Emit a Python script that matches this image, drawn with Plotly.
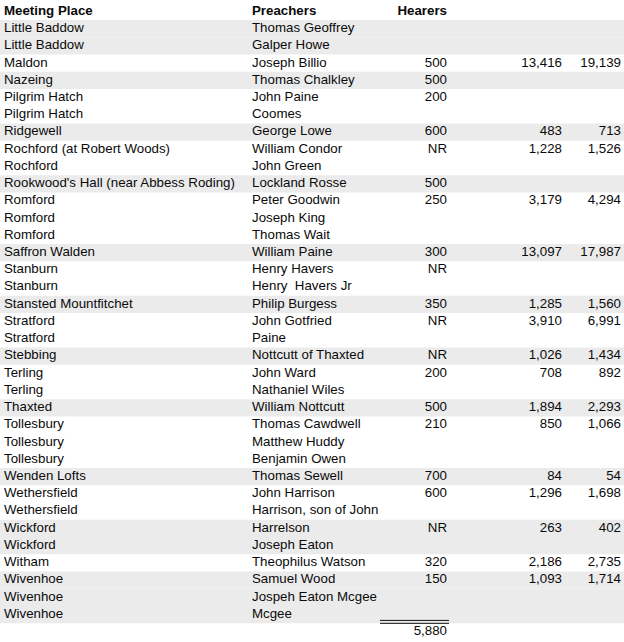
import plotly.graph_objects as go

# header labels
columns = ["Meeting Place", "Preachers", "Hearers", "", ""]

places = [
    "Little Baddow", "Little Baddow", "Maldon", "Nazeing", "Pilgrim Hatch", "Pilgrim Hatch",
    "Ridgewell", "Rochford (at Robert Woods)", "Rochford", "Rookwood's Hall (near Abbess Roding)",
    "Romford", "Romford", "Romford", "Saffron Walden", "Stanburn", "Stanburn",
    "Stansted Mountfitchet", "Stratford", "Stratford", "Stebbing", "Terling", "Terling",
    "Thaxted", "Tollesbury", "Tollesbury", "Tollesbury", "Wenden Lofts", "Wethersfield",
    "Wethersfield", "Wickford", "Wickford", "Witham", "Wivenhoe", "Wivenhoe", "Wivenhoe",
]

preachers = [
    "Thomas Geoffrey", "Galper Howe", "Joseph Billio", "Thomas Chalkley", "John Paine", "Coomes",
    "George Lowe", "William Condor", "John Green", "Lockland Rosse",
    "Peter Goodwin", "Joseph King", "Thomas Wait", "William Paine", "Henry Havers", "Henry  Havers Jr",
    "Philip Burgess", "John Gotfried", "Paine", "Nottcutt of Thaxted", "John Ward", "Nathaniel Wiles",
    "William Nottcutt", "Thomas Cawdwell", "Matthew Huddy", "Benjamin Owen", "Thomas Sewell", "John Harrison",
    "Harrison, son of John", "Harrelson", "Joseph Eaton", "Theophilus Watson", "Samuel Wood",
    "Jospeh Eaton Mcgee", "Mcgee",
]

hearers = [
    None, None, 500, 500, 200, None,
    600, "NR", None, 500,
    250, None, None, 300, "NR", None,
    350, "NR", None, "NR", 200, None,
    500, 210, None, None, 700, 600,
    None, "NR", None, 320, 150, None, None,
]

figure_a = [
    None, None, 13416, None, None, None,
    483, 1228, None, None,
    3179, None, None, 13097, None, None,
    1285, 3910, None, 1026, 708, None,
    1894, 850, None, None, 84, 1296,
    None, 263, None, 2186, 1093, None, None,
]

figure_b = [
    None, None, 19139, None, None, None,
    713, 1526, None, None,
    4294, None, None, 17987, None, None,
    1560, 6991, None, 1434, 892, None,
    2293, 1066, None, None, 54, 1698,
    None, 402, None, 2735, 1714, None, None,
]


def fmt(v):
    if v is None:
        return ""
    if isinstance(v, str):
        return v
    return f"{v:,}"


total = sum(v for v in hearers if isinstance(v, int))

rows = list(range(1, len(places) + 1))
total_row = len(places) + 1

# alternate shading by meeting place group
shade_rows = []
group = 0
prev = None
for r, p in zip(rows, places):
    key = p.split(" (")[0]
    if prev is not None and key != prev:
        group += 1
    prev = key
    if group % 2 == 0:
        shade_rows.append(r)

W, H = 624, 642
row_px = 17.23
y0 = -11.5 / row_px
y1 = y0 + H / row_px

font = dict(family="Liberation Sans, Arial, sans-serif", size=13.3, color="#0a0a0a")
bold = dict(family="Liberation Sans, Arial, sans-serif", size=13.3, color="#0a0a0a")

col_x = [4, 252, 447, 562, 621]
col_pos = ["middle right", "middle right", "middle left", "middle left", "middle left"]

fig = go.Figure()

fig.add_trace(go.Bar(
    y=shade_rows, x=[W] * len(shade_rows), base=0, width=1,
    orientation="h", marker=dict(color="#ebebeb", line=dict(width=0)),
    hoverinfo="skip", showlegend=False,
))

col_values = [places, preachers, [fmt(v) for v in hearers],
              [fmt(v) for v in figure_a], [fmt(v) for v in figure_b]]

for x, pos, vals, head in zip(col_x, col_pos, col_values, columns):
    fig.add_trace(go.Scatter(
        x=[x] * len(vals), y=rows, text=vals, mode="text",
        textposition=pos, textfont=font, hoverinfo="skip", showlegend=False,
        cliponaxis=False,
    ))
    if head:
        fig.add_trace(go.Scatter(
            x=[x], y=[0], text=[f"<b>{head}</b>"], mode="text",
            textposition=pos, textfont=bold, hoverinfo="skip", showlegend=False,
            cliponaxis=False,
        ))

fig.add_trace(go.Scatter(
    x=[col_x[2]], y=[total_row], text=[fmt(total)], mode="text",
    textposition="middle left", textfont=font, hoverinfo="skip", showlegend=False,
    cliponaxis=False,
))

# double rule above the total
for yy in (total_row - 0.66, total_row - 0.49):
    fig.add_shape(type="line", x0=380, x1=449, y0=yy, y1=yy,
                  xref="x", yref="y", line=dict(color="#111111", width=1))

fig.update_xaxes(range=[0, W], visible=False, fixedrange=True)
fig.update_yaxes(range=[y1, y0], visible=False, fixedrange=True)

fig.update_layout(
    width=W, height=H,
    margin=dict(l=0, r=0, t=0, b=0),
    plot_bgcolor="white", paper_bgcolor="white",
    showlegend=False,
)

fig.write_html(
    "out.html",
    config={"displayModeBar": False},
    post_script="document.body.style.margin='0';document.body.style.overflow='hidden';",
)
